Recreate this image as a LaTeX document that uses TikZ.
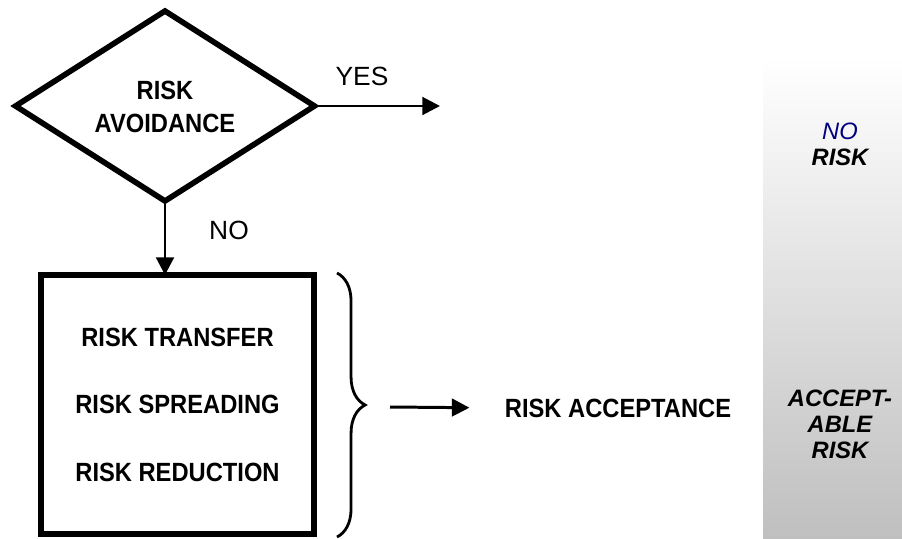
\documentclass[tikz,border=0pt]{standalone}
\usepackage{fontspec}
\setmainfont{Liberation Sans}
\newfontfamily\narrowfont{Liberation Sans}[FakeStretch=0.9]
\usetikzlibrary{arrows.meta,shapes.geometric,decorations.pathreplacing}
\definecolor{navytext}{RGB}{0,0,128}

\tikzset{
	flowarrow/.style={line width=1.7pt, -{Triangle[length=10pt,width=10pt]}},
	boldtext/.style={font=\narrowfont\bfseries\fontsize{15}{18.8}\selectfont, align=center, inner sep=0pt},
	plaintext/.style={font=\fontsize{15}{18}\selectfont, inner sep=0pt},
	bartext/.style={font=\bfseries\itshape\fontsize{13.5}{14.8}\selectfont, align=center, inner sep=0pt}
}

\begin{document}
\begin{tikzpicture}[x=0.02cm, y=-0.02cm]
		%%%%% START %%%%%
		\useasboundingbox (0, 0) rectangle (902, 538);
		
		% shaded risk scale
		\shade[top color=white, bottom color=black!25] (763, 58) rectangle (902, 538);
		\node[bartext] (norisk) at (840, 144) {{\mdseries\color{navytext}NO}\\RISK};
		\node[bartext] (accrisk) at (840, 424) {ACCEPT-\\ABLE\\RISK};
		
		% decision
		\node[diamond, draw, line width=3.2pt, minimum width=5.98cm, minimum height=3.8cm, inner sep=0pt, aspect=1.6, outer sep=0pt] (riskavoid) at (165, 106) {};
		\node[boldtext] (avoidtext) at (165, 107) {RISK\\AVOIDANCE};
		\coordinate (yesend) at (440, 106);
		\draw[flowarrow] (riskavoid.east) -- (yesend);
		\node[plaintext] (yes) at (362, 76) {YES};
		
		% measures
		\node[draw, line width=3.6pt, minimum width=5.46cm, minimum height=5.18cm, outer sep=0pt, font=\narrowfont\bfseries\fontsize{15}{38.4}\selectfont, align=center] (measures) at (177.5, 404.5) {RISK TRANSFER\\RISK SPREADING\\RISK REDUCTION};
		\draw[flowarrow] (riskavoid.south) -- (riskavoid.south |- measures.north);
		\node[plaintext] (no) at (229, 230) {NO};
		
		% brace and acceptance
		\coordinate (bracetop) at (337, 273);
		\coordinate (bracebot) at (337, 537);
		\draw[line width=1.6pt, decorate, decoration={brace, amplitude=16pt}] (bracetop) -- (bracebot);
		\coordinate (accfrom) at (390, 407);
		\node[boldtext] (accept) at (618, 408) {RISK ACCEPTANCE};
		\draw[flowarrow, shorten >=20pt] (accfrom) -- (accept.west);
		
		%%%%% END %%%%%
\end{tikzpicture}
\end{document}
